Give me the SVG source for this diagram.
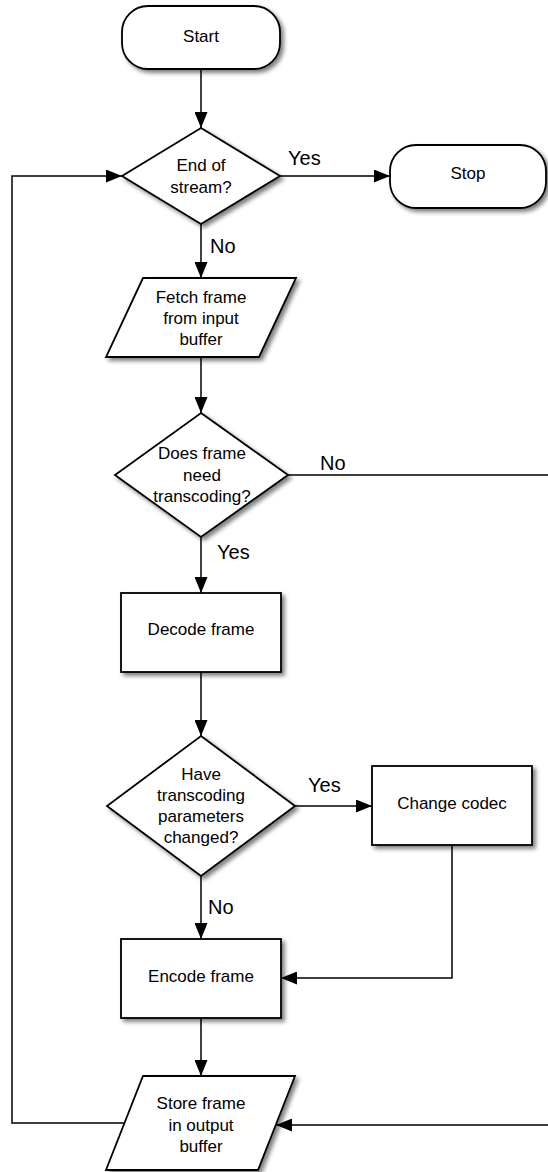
<svg xmlns="http://www.w3.org/2000/svg" width="548" height="1172" viewBox="0 0 548 1172">
<style>
.shape{fill:#fff;stroke:#000;stroke-width:1.8;filter:url(#sh)}
.conn{fill:none;stroke:#000;stroke-width:1.5}
.t{font-family:"Liberation Sans",Arial,sans-serif;font-size:17px;fill:#000;text-anchor:middle}
.lbl{font-family:"Liberation Sans",Arial,sans-serif;font-size:20px;fill:#000}
</style>
<defs>
<filter id="sh" x="-10%" y="-10%" width="130%" height="130%">
<feDropShadow dx="3" dy="3" stdDeviation="2" flood-color="#000" flood-opacity="0.5"/>
</filter>
<marker id="ah" markerUnits="userSpaceOnUse" markerWidth="16" markerHeight="13" refX="16" refY="6.5" orient="auto">
<path d="M0,0 L16,6.5 L0,13 z" fill="#000"/>
</marker>
</defs>
<rect width="548" height="1172" fill="#fff"/>
<g id="connectors">
<path class="conn" d="M201,69 V128" marker-end="url(#ah)"/>
<path class="conn" d="M280,176 H390" marker-end="url(#ah)"/>
<path class="conn" d="M124.5,1123 H12 V176 H122" marker-end="url(#ah)"/>
<path class="conn" d="M201,224 V278" marker-end="url(#ah)"/>
<path class="conn" d="M201,357 V413" marker-end="url(#ah)"/>
<path class="conn" d="M288,475 H560 V1125 H276" marker-end="url(#ah)"/>
<path class="conn" d="M201,537 V593" marker-end="url(#ah)"/>
<path class="conn" d="M201,672 V736" marker-end="url(#ah)"/>
<path class="conn" d="M295,806 H372" marker-end="url(#ah)"/>
<path class="conn" d="M452,845 V978 H281" marker-end="url(#ah)"/>
<path class="conn" d="M201,876 V939" marker-end="url(#ah)"/>
<path class="conn" d="M201,1018 V1076" marker-end="url(#ah)"/>
<text class="lbl" x="288" y="165">Yes</text>
<text class="lbl" x="210" y="253">No</text>
<text class="lbl" x="320" y="470">No</text>
<text class="lbl" x="217" y="559">Yes</text>
<text class="lbl" x="308" y="792">Yes</text>
<text class="lbl" x="208" y="914">No</text>
</g>
<g id="start">
<rect class="shape" x="122" y="6" width="158" height="63" rx="26" ry="26"/>
<text class="t" x="201" y="42">Start</text>
</g>
<g id="end-of-stream">
<polygon class="shape" points="201,128 280,176 201,224 122,176"/>
<text class="t" x="201" y="171">End of</text>
<text class="t" x="201" y="193">stream?</text>
</g>
<g id="stop">
<rect class="shape" x="390" y="145" width="156" height="63" rx="26" ry="26"/>
<text class="t" x="468" y="179">Stop</text>
</g>
<g id="fetch">
<polygon class="shape" points="143,278 296,278 259,357 106,357"/>
<text class="t" x="201" y="303">Fetch frame</text>
<text class="t" x="201" y="324">from input</text>
<text class="t" x="201" y="345">buffer</text>
</g>
<g id="needs-transcoding">
<polygon class="shape" points="201,413 288,475 201,537 115,475"/>
<text class="t" x="202" y="459">Does frame</text>
<text class="t" x="202" y="481">need</text>
<text class="t" x="202" y="502">transcoding?</text>
</g>
<g id="decode">
<rect class="shape" x="121" y="593" width="160" height="79"/>
<text class="t" x="201" y="635">Decode frame</text>
</g>
<g id="params-changed">
<polygon class="shape" points="201,736 295,806 201,876 107,806"/>
<text class="t" x="201" y="780">Have</text>
<text class="t" x="201" y="801">transcoding</text>
<text class="t" x="201" y="822">parameters</text>
<text class="t" x="201" y="843">changed?</text>
</g>
<g id="change-codec">
<rect class="shape" x="372" y="766" width="160" height="79"/>
<text class="t" x="452" y="809">Change codec</text>
</g>
<g id="encode">
<rect class="shape" x="121" y="939" width="160" height="79"/>
<text class="t" x="201" y="982">Encode frame</text>
</g>
<g id="store">
<polygon class="shape" points="143,1076 295,1076 258,1170 106,1170"/>
<text class="t" x="201" y="1109">Store frame</text>
<text class="t" x="201" y="1131">in output</text>
<text class="t" x="201" y="1152">buffer</text>
</g>
</svg>
